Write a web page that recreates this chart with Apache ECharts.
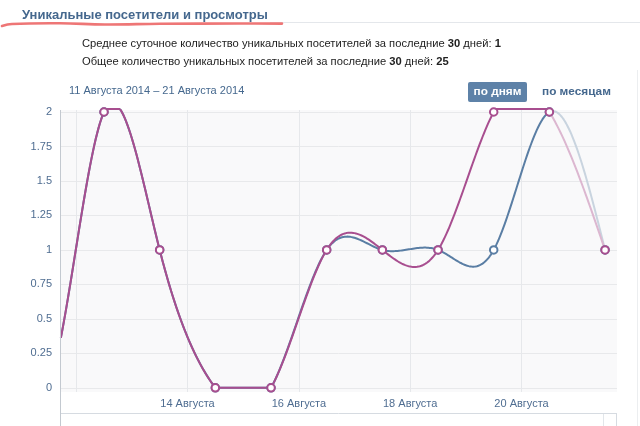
<!DOCTYPE html>
<html><head><meta charset="utf-8">
<script src="https://cdn.jsdelivr.net/npm/echarts@6/dist/echarts.min.js"></script>
<style>html,body{margin:0;padding:0;background:#fff}#c{width:640px;height:426px}</style>
</head><body><div id="c"></div>
<script>
// Days of August 2014 (each value is plotted at mid-day of its date)
// 10 Aug lies outside the visible window; its value is estimated from the curve entering at the left edge.
const days     = [10, 11, 12, 13, 14, 15, 16, 17, 18, 19, 20, 21];
const visitors = [1, 0, 2, 1, 0, 0, 1, 1, 1, 1, 2, 1];   // blue line
const views    = [1, 0, 2, 1, 0, 0, 1, 1, 1, 2, 2, 1];   // pink line
const xGridDays  = [12, 14, 16, 18, 20];
const xLabelDays = [14, 16, 18, 20];
const yTicks = [0, 0.25, 0.5, 0.75, 1, 1.25, 1.5, 1.75, 2];
const monthName = 'Августа';

const title = 'Уникальные посетители и просмотры';
const avgLine = ['Среднее суточное количество уникальных посетителей за последние ', '30', ' дней: ', '1'];
const totalLine = ['Общее количество уникальных посетителей за последние ', '30', ' дней: ', '25'];
const rangeText = '11 Августа 2014 – 21 Августа 2014';
const btnDays = 'по дням';
const btnMonths = 'по месяцам';

const PINK = '#a84e8f', PINK_FADE = '#dcb7d0';
const BLUE = '#5a7ea4', BLUE_FADE = '#c9d4df';
const FONT = "'Liberation Sans', Arial, sans-serif";
const LABEL = '#4f6d91';
const X_MIN = 11.7096, X_MAX = 21.7146, Y_MIN = -0.03, Y_MAX = 2.0145;
const CLAMP_LO = 0, CLAMP_HI = 2.022;

// natural cubic spline second derivatives (uniform spacing of one day)
function splineM(ys) {
  const n = ys.length - 1, M = new Array(n + 1).fill(0);
  if (n < 2) return M;
  const c = [], d = [];
  for (let i = 1; i < n; i++) {
    const rhs = 6 * (ys[i + 1] - 2 * ys[i] + ys[i - 1]);
    if (i === 1) { c[i] = 0.25; d[i] = rhs / 4; }
    else { const den = 4 - c[i - 1]; c[i] = 1 / den; d[i] = (rhs - d[i - 1]) / den; }
  }
  for (let i = n - 1; i >= 1; i--) M[i] = d[i] - c[i] * (M[i + 1] || 0);
  return M;
}

function curveSeries(ys, color, fade) {
  const M = splineM(ys);
  return {
    type: 'custom', clip: false, silent: true, z: 3,
    data: days.map((d, i) => [d + 0.5, ys[i]]),
    encode: { x: 0, y: 1 },
    renderItem: function (params, api) {
      const i = params.dataIndex;
      if (i >= ys.length - 1) return null;
      const x0 = days[i] + 0.5;
      const pts = [];
      const N = 40;
      for (let k = 0; k <= N; k++) {
        const t = k / N, x = x0 + t;
        if (x < X_MIN || x > X_MAX) continue;
        const u = 1 - t;
        let y = u * ys[i] + t * ys[i + 1] + ((u * u * u - u) * M[i] + (t * t * t - t) * M[i + 1]) / 6;
        y = Math.max(CLAMP_LO, Math.min(CLAMP_HI, y));
        pts.push(api.coord([x, y]));
      }
      if (pts.length < 2) return null;
      const last = i === ys.length - 2;
      return { type: 'polyline', shape: { points: pts },
        style: { fill: 'none', stroke: last ? fade : color, lineWidth: 2, lineJoin: 'round' } };
    }
  };
}

function markerSeries(ys, color) {
  return {
    type: 'scatter', clip: true, silent: true, z: 4,
    data: days.map((d, i) => [d + 0.5, ys[i]]),
    symbol: 'circle', symbolSize: 7.5,
    itemStyle: { color: '#fff', borderColor: color, borderWidth: 2, opacity: 1 }
  };
}

const chart = echarts.init(document.getElementById('c'));
chart.setOption({
  animation: false,
  textStyle: { fontFamily: FONT },
  grid: { left: 60, right: 23, top: 110, bottom: 34, show: true, backgroundColor: '#f9f9fa', borderWidth: 0 },
  xAxis: {
    type: 'value', min: X_MIN, max: X_MAX,
    axisLine: { show: false },
    axisTick: { show: false, customValues: xGridDays },
    splitLine: { show: true, lineStyle: { color: '#e6e8eb', width: 1 } },
    axisLabel: { customValues: xLabelDays, color: LABEL, fontSize: 11, fontFamily: FONT, margin: 6,
      formatter: v => Math.round(v) + ' ' + monthName }
  },
  yAxis: {
    type: 'value', min: Y_MIN, max: Y_MAX,
    axisLine: { show: false },
    axisTick: { show: false, customValues: yTicks },
    splitLine: { show: true, lineStyle: { color: '#e8e9eb', width: 1 } },
    axisLabel: { customValues: yTicks, color: LABEL, fontSize: 11, fontFamily: FONT, margin: 8,
      formatter: v => String(+v.toFixed(2)) }
  },
  graphic: [
    { type: 'line', shape: { x1: 270, y1: 22.5, x2: 640, y2: 22.5 }, style: { stroke: '#e4e7eb', lineWidth: 1 } },
    { type: 'text', left: 22, top: 9, style: { text: title, fill: '#45688e', font: 'bold 13px ' + FONT } },
    { type: 'polyline', shape: { points: [[2, 26], [12, 24], [60, 23.3], [105, 24.5], [160, 23.8], [240, 23.5], [282, 23.6]], smooth: 0.4 },
      style: { stroke: '#ee7676', lineWidth: 2.6, fill: 'none', lineCap: 'round' } },
    { type: 'text', left: 82, top: 38, style: { text: '{n|' + avgLine[0] + '}{b|' + avgLine[1] + '}{n|' + avgLine[2] + '}{b|' + avgLine[3] + '}',
      rich: { n: { font: '11.2px ' + FONT, fill: '#222' }, b: { font: 'bold 11.2px ' + FONT, fill: '#222' } } } },
    { type: 'text', left: 82, top: 56, style: { text: '{n|' + totalLine[0] + '}{b|' + totalLine[1] + '}{n|' + totalLine[2] + '}{b|' + totalLine[3] + '}',
      rich: { n: { font: '11.2px ' + FONT, fill: '#222' }, b: { font: 'bold 11.2px ' + FONT, fill: '#222' } } } },
    { type: 'text', left: 69, top: 85, style: { text: rangeText, fill: '#45688e', font: '11px ' + FONT } },
    { type: 'rect', shape: { x: 468, y: 82, width: 59, height: 20, r: 2 }, style: { fill: '#5e82a8' } },
    { type: 'text', x: 497.5, y: 92, style: { text: btnDays, fill: '#fff', font: 'bold 11.8px ' + FONT, align: 'center', verticalAlign: 'middle' } },
    { type: 'text', x: 542, y: 92, style: { text: btnMonths, fill: '#45688e', font: 'bold 11.8px ' + FONT, verticalAlign: 'middle' } },
    { type: 'line', shape: { x1: 637.5, y1: 70, x2: 637.5, y2: 426 }, style: { stroke: '#eceef0', lineWidth: 1 } },
    { type: 'line', shape: { x1: 60.5, y1: 110, x2: 60.5, y2: 426 }, style: { stroke: '#c3c9d0', lineWidth: 1 }, z: 10 },
    { type: 'line', shape: { x1: 60, y1: 413.5, x2: 617, y2: 413.5 }, style: { stroke: '#d6dbe1', lineWidth: 1 } },
    { type: 'line', shape: { x1: 616.5, y1: 413, x2: 616.5, y2: 426 }, style: { stroke: '#d6dbe1', lineWidth: 1 } },
    { type: 'line', shape: { x1: 603.5, y1: 414, x2: 603.5, y2: 426 }, style: { stroke: '#e2e6ea', lineWidth: 1 } }
  ],
  series: [
    curveSeries(visitors, BLUE, BLUE_FADE),
    curveSeries(views, PINK, PINK_FADE),
    markerSeries(visitors, BLUE),
    markerSeries(views, PINK)
  ]
});
</script>
</body></html>
